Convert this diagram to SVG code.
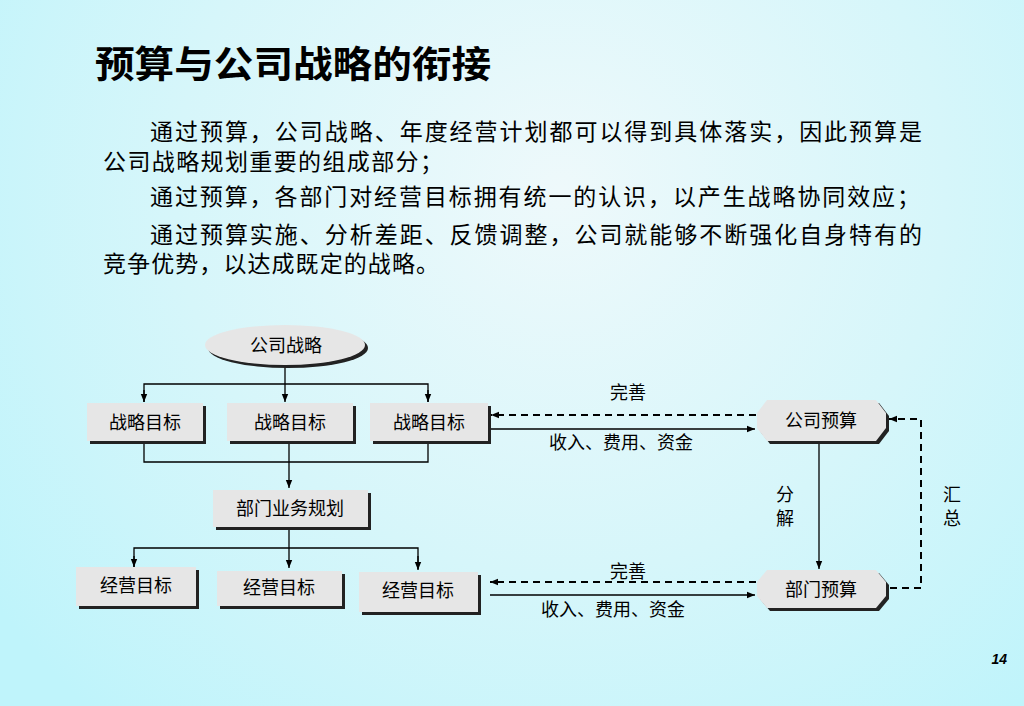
<svg xmlns="http://www.w3.org/2000/svg" width="1024" height="706" viewBox="0 0 1024 706">
<defs>
<radialGradient id="bg" cx="560" cy="190" r="700" gradientUnits="userSpaceOnUse">
<stop offset="0" stop-color="#eef9fb"/>
<stop offset="0.55" stop-color="#d6f6fa"/>
<stop offset="1" stop-color="#bff4fb"/>
</radialGradient>
<marker id="ah" viewBox="0 0 10 10" refX="10" refY="5" markerWidth="8" markerHeight="8" markerUnits="userSpaceOnUse" orient="auto">
<path d="M0,1 L10,5 L0,9 Z" fill="#000"/>
</marker>
<style>
.t{font-family:"Liberation Serif","Noto Sans CJK SC",serif;fill:#000}
.body{font-size:23px}
.lbl{font-size:18px;text-anchor:middle}
.shadow{fill:#222}
.box{fill:#e6e6e6}
.ln{stroke:#000;stroke-width:1.3;fill:none}
.dash{stroke:#000;stroke-width:2;fill:none;stroke-dasharray:7,5}
</style>
</defs>
<rect width="1024" height="706" fill="url(#bg)"/>

<text x="95" y="78" font-family="'Noto Sans CJK SC',sans-serif" font-size="37" font-weight="bold" textLength="396" lengthAdjust="spacingAndGlyphs" fill="#000">预算与公司战略的衔接</text>

<g class="t body">
<text x="150" y="140" textLength="772" lengthAdjust="spacing">通过预算，公司战略、年度经营计划都可以得到具体落实，因此预算是</text>
<text x="103" y="170" textLength="340" lengthAdjust="spacing">公司战略规划重要的组成部分；</text>
<text x="150" y="205" textLength="770" lengthAdjust="spacing">通过预算，各部门对经营目标拥有统一的认识，以产生战略协同效应；</text>
<text x="150" y="243" textLength="772" lengthAdjust="spacing">通过预算实施、分析差距、反馈调整，公司就能够不断强化自身特有的</text>
<text x="103" y="272" textLength="336" lengthAdjust="spacing">竞争优势，以达成既定的战略。</text>
</g>

<g id="connectors">
<line class="ln" x1="285" y1="366" x2="285" y2="402" marker-end="url(#ah)"/>
<polyline class="ln" points="144,402 144,384 428,384 428,402" />
<line class="ln" x1="144" y1="390" x2="144" y2="402" marker-end="url(#ah)"/>
<line class="ln" x1="428" y1="390" x2="428" y2="402" marker-end="url(#ah)"/>
<polyline class="ln" points="144,444 144,462 428,462 428,444"/>
<line class="ln" x1="289" y1="444" x2="289" y2="488" marker-end="url(#ah)"/>
<line class="ln" x1="289" y1="530" x2="289" y2="568" marker-end="url(#ah)"/>
<polyline class="ln" points="134,568 134,548 418,548 418,569"/>
<line class="ln" x1="134" y1="556" x2="134" y2="567" marker-end="url(#ah)"/>
<line class="ln" x1="418" y1="556" x2="418" y2="570" marker-end="url(#ah)"/>
<line class="dash" x1="756" y1="415" x2="491" y2="415" marker-end="url(#ah)"/>
<line class="ln" x1="491" y1="429" x2="755" y2="429" marker-end="url(#ah)"/>
<line class="dash" x1="756" y1="582" x2="490" y2="582" marker-end="url(#ah)"/>
<line class="ln" x1="490" y1="595" x2="755" y2="595" marker-end="url(#ah)"/>
<line class="ln" x1="819" y1="444" x2="819" y2="569" marker-end="url(#ah)"/>
<polyline class="dash" points="890,588 921,588 921,419 896,419"/>
<line class="dash" x1="896" y1="419" x2="889" y2="419" stroke-dasharray="none" marker-end="url(#ah)"/>
<g class="t lbl">
<text x="628" y="399">完善</text>
<text x="621" y="449">收入、费用、资金</text>
<text x="628" y="578">完善</text>
<text x="613" y="616">收入、费用、资金</text>
<text x="785" y="501">分</text>
<text x="785" y="525">解</text>
<text x="952" y="501">汇</text>
<text x="952" y="525">总</text>
</g>
</g>

<g id="n-gssl">
<ellipse class="shadow" cx="288" cy="348" rx="80" ry="20"/>
<ellipse class="box" cx="285" cy="345" rx="80" ry="20"/>
<text class="t lbl" x="286" y="352">公司战略</text>
</g>
<g id="n-zlmb1">
<rect class="shadow" x="90" y="406" width="116" height="38"/>
<rect class="box" x="87" y="403" width="116" height="38"/>
<text class="t lbl" x="145" y="429">战略目标</text>
</g>
<g id="n-zlmb2">
<rect class="shadow" x="230" y="406" width="126" height="38"/>
<rect class="box" x="227" y="403" width="126" height="38"/>
<text class="t lbl" x="290" y="429">战略目标</text>
</g>
<g id="n-zlmb3">
<rect class="shadow" x="373" y="406" width="118" height="38"/>
<rect class="box" x="370" y="403" width="118" height="38"/>
<text class="t lbl" x="429" y="429">战略目标</text>
</g>
<g id="n-bmywgh">
<rect class="shadow" x="216" y="493" width="155" height="37"/>
<rect class="box" x="213" y="490" width="155" height="37"/>
<text class="t lbl" x="290" y="515">部门业务规划</text>
</g>
<g id="n-jymb1">
<rect class="shadow" x="79" y="570" width="120" height="39"/>
<rect class="box" x="76" y="567" width="120" height="39"/>
<text class="t lbl" x="136" y="592">经营目标</text>
</g>
<g id="n-jymb2">
<rect class="shadow" x="220" y="574" width="125" height="35"/>
<rect class="box" x="217" y="571" width="125" height="35"/>
<text class="t lbl" x="279" y="594">经营目标</text>
</g>
<g id="n-jymb3">
<rect class="shadow" x="362" y="575" width="119" height="40"/>
<rect class="box" x="359" y="572" width="119" height="40"/>
<text class="t lbl" x="418" y="597">经营目标</text>
</g>
<g id="n-gsys">
<polygon class="shadow" transform="translate(3,3)" points="767,400 876,400 886,413 886,428 876,441 767,441 757,428 757,413"/>
<polygon class="box" points="767,400 876,400 886,413 886,428 876,441 767,441 757,428 757,413"/>
<text class="t lbl" x="821" y="427">公司预算</text>
</g>
<g id="n-bmys">
<polygon class="shadow" transform="translate(3,3)" points="767,570 876,570 886,582 886,596 876,608 767,608 757,596 757,582"/>
<polygon class="box" points="767,570 876,570 886,582 886,596 876,608 767,608 757,596 757,582"/>
<text class="t lbl" x="821" y="596">部门预算</text>
</g>

<text x="1007" y="664" font-family="'Liberation Sans',sans-serif" font-size="14" font-weight="bold" font-style="italic" text-anchor="end" fill="#000">14</text>
</svg>
